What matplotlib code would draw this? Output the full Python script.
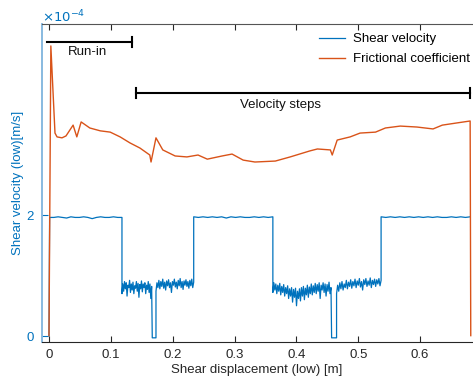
import numpy as np
import matplotlib
matplotlib.use("Agg")
import matplotlib.pyplot as plt

plt.rcParams['font.family'] = ['Liberation Sans', 'DejaVu Sans']
plt.rcParams['font.size'] = 9.5

# shear velocity, units of 1e-4 m/s, piecewise segments (x start, x end, values)
high1_x = (0.001, 0.118)
high1_v = [1.96, 1.96, 1.97, 1.96, 1.95, 1.97, 1.96, 1.96, 1.97, 1.96, 1.94, 1.96, 1.97, 1.96, 1.96, 1.97, 1.96, 1.96]
low1_x = (0.118, 0.166)
low1_v = [0.70, 0.86, 0.74, 0.90, 0.78, 0.88, 0.66, 0.84, 0.80, 0.92, 0.72, 0.86, 0.76, 0.89, 0.70, 0.83, 0.79, 0.90,
          0.74, 0.87, 0.64, 0.85, 0.78, 0.91, 0.73, 0.86, 0.80, 0.88, 0.70, 0.84, 0.77, 0.90, 0.72, 0.86, 0.62, 0.82]
stop1_x = (0.167, 0.173)
low1b_x = (0.173, 0.234)
low1b_v = [0.74, 0.88, 0.80, 0.92, 0.78, 0.90, 0.82, 0.94, 0.79, 0.89, 0.76, 0.91, 0.83, 0.93, 0.80, 0.88, 0.72, 0.90,
           0.84, 0.94, 0.81, 0.89, 0.78, 0.92, 0.83, 0.95, 0.80, 0.90, 0.77, 0.91, 0.84, 0.93, 0.82, 0.90, 0.79, 0.92,
           0.83, 0.94, 0.80, 0.89]
high2_x = (0.234, 0.362)
high2_v = [1.97, 1.96, 1.97, 1.96, 1.97, 1.96, 1.97, 1.95, 1.97, 1.96, 1.97, 1.96, 1.96, 1.97, 1.96, 1.97, 1.96, 1.97]
low2_x = (0.362, 0.456)
low2_v = [0.72, 0.88, 0.76, 0.86, 0.70, 0.84, 0.74, 0.87, 0.68, 0.82, 0.72, 0.85, 0.66, 0.80, 0.70, 0.83, 0.62, 0.78,
          0.66, 0.80, 0.56, 0.77, 0.64, 0.79, 0.50, 0.74, 0.62, 0.78, 0.58, 0.80, 0.66, 0.82, 0.60, 0.79, 0.68, 0.84,
          0.64, 0.81, 0.70, 0.86, 0.68, 0.83, 0.72, 0.87, 0.70, 0.85, 0.74, 0.88, 0.62, 0.84, 0.76, 0.88, 0.72, 0.86,
          0.66, 0.85, 0.74, 0.89, 0.70, 0.80]
stop2_x = (0.457, 0.465)
low2b_x = (0.465, 0.537)
low2b_v = [0.70, 0.84, 0.74, 0.88, 0.78, 0.90, 0.76, 0.86, 0.80, 0.92, 0.78, 0.89, 0.82, 0.93, 0.79, 0.90, 0.83, 0.94,
           0.80, 0.91, 0.84, 0.95, 0.81, 0.90, 0.76, 0.93, 0.85, 0.95, 0.82, 0.91, 0.84, 0.96, 0.80, 0.92, 0.85, 0.94,
           0.82, 0.93, 0.86, 0.95, 0.83, 0.92]
high3_x = (0.537, 0.681)
high3_v = [1.97, 1.96, 1.97, 1.96, 1.97, 1.96, 1.97, 1.96, 1.97, 1.96, 1.97, 1.96, 1.97, 1.96, 1.96, 1.97, 1.96, 1.97, 1.96, 1.97]
stop_v = -0.03

# frictional coefficient (right axis, hidden)
fric_x = [0.0, 0.003, 0.0097, 0.013, 0.021, 0.0275, 0.039, 0.045, 0.052, 0.066, 0.083, 0.099, 0.115, 0.131, 0.147,
          0.163, 0.165, 0.173, 0.184, 0.204, 0.223, 0.241, 0.256, 0.280, 0.296, 0.314, 0.333, 0.366, 0.390, 0.422,
          0.434, 0.455, 0.458, 0.466, 0.487, 0.503, 0.528, 0.544, 0.568, 0.595, 0.621, 0.636, 0.660, 0.681, 0.682]
fric_y = [0.02, 0.931, 0.657, 0.645, 0.642, 0.648, 0.682, 0.645, 0.692, 0.673, 0.664, 0.660, 0.645, 0.626, 0.610,
          0.588, 0.566, 0.642, 0.604, 0.585, 0.582, 0.588, 0.575, 0.585, 0.591, 0.572, 0.566, 0.569, 0.582, 0.601,
          0.607, 0.604, 0.588, 0.635, 0.645, 0.657, 0.660, 0.673, 0.679, 0.676, 0.670, 0.682, 0.689, 0.695, 0.02]

# assemble velocity trace
vx, vy = [0.0], [0.0]
for seg_x, seg_v in [(high1_x, high1_v), (low1_x, low1_v), (stop1_x, [stop_v, stop_v]), (low1b_x, low1b_v),
                     (high2_x, high2_v), (low2_x, low2_v), (stop2_x, [stop_v, stop_v]), (low2b_x, low2b_v),
                     (high3_x, high3_v)]:
    xs = np.linspace(seg_x[0], seg_x[1], len(seg_v))
    vx.extend(xs)
    vy.extend(seg_v)

blue = '#0072BD'
red = '#D95319'

fig = plt.figure(figsize=(4.73, 3.76), dpi=100)
ax = fig.add_axes([42 / 473, 1 - 342 / 376, 430 / 473, 318 / 376])
ax2 = ax.twinx()

l1, = ax.plot(vx, vy, color=blue, lw=0.9, label='Shear velocity')
l2, = ax2.plot(fric_x, fric_y, color=red, lw=1.0, label='Frictional coefficient')

ax.set_xlim(-0.0113, 0.684)
ax.set_ylim(-0.099, 5.157)
ax2.set_ylim(0, 1)
ax.set_xticks([0, 0.1, 0.2, 0.3, 0.4, 0.5, 0.6])
ax.set_xticklabels(['0', '0.1', '0.2', '0.3', '0.4', '0.5', '0.6'])
ax.set_yticks([0, 2])
ax.tick_params(axis='x', direction='in', top=True, length=4, width=0.8, colors='#262626', pad=5)
ax.tick_params(axis='y', direction='in', length=4, width=0.8, colors=blue, pad=6)
ax2.set_yticks([])
for s in ['right']:
    ax.spines[s].set_visible(False)
    ax2.spines[s].set_visible(False)
ax2.spines['left'].set_visible(False)
ax2.spines['top'].set_visible(False)
ax2.spines['bottom'].set_visible(False)
ax.spines['left'].set_color('#7fb4dd')
ax.spines['left'].set_linewidth(1.3)
ax.spines['bottom'].set_color('#262626')
ax.spines['top'].set_color('#555555')
ax.spines['bottom'].set_linewidth(0.8)
ax.spines['top'].set_linewidth(0.8)

ax.set_xlabel('Shear displacement (low) [m]', color='#262626', labelpad=2.5)
ax.set_ylabel('Shear velocity (low)[m/s]', color=blue, labelpad=2)
fig.text(42 / 473, 1 - 17 / 376, r'$\times10^{-4}$', color=blue, fontsize=9.5, ha='left', va='center')

# run-in and velocity steps markers
ax.plot([-0.003, 0.134], [4.86, 4.86], color='k', lw=1.5)
ax.plot([0.134, 0.134], [4.78, 4.94], color='k', lw=1.5)
ax.text(0.0615, 4.69, 'Run-in', ha='center', va='center', color='#111111')
ax.plot([0.141, 0.680], [4.02, 4.02], color='k', lw=1.5)
ax.plot([0.141, 0.141], [3.94, 4.10], color='k', lw=1.5)
ax.plot([0.680, 0.680], [3.94, 4.10], color='k', lw=1.5)
ax.text(0.375, 3.82, 'Velocity steps', ha='center', va='center', color='#111111')

fig.legend(handles=[l1, l2], loc='upper left', bbox_to_anchor=(319 / 473, 1 - 33 / 376),
           bbox_transform=fig.transFigure, frameon=False, borderpad=0, borderaxespad=0,
           handlelength=2.0, handletextpad=0.6, labelspacing=0.6)

fig.savefig('out.png', dpi=100)
